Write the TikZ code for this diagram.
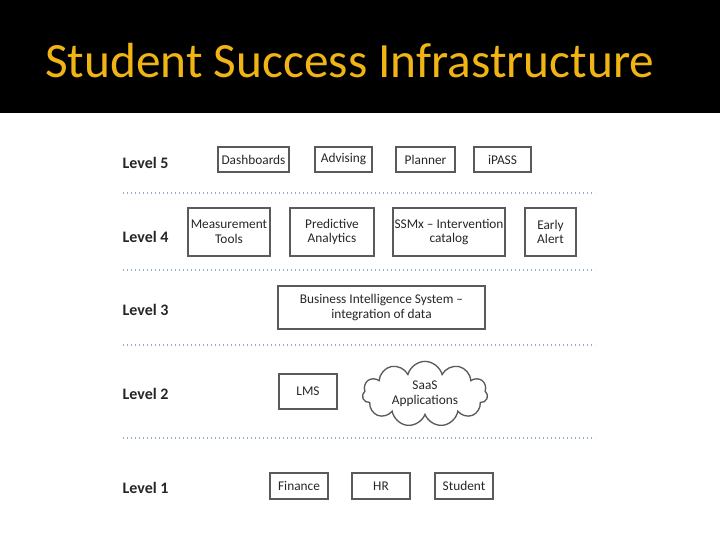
\documentclass[tikz,border=0pt]{standalone}
\usepackage{fontspec}
\setmainfont{Carlito}
\usetikzlibrary{shapes.symbols}
\definecolor{ttl}{RGB}{240,180,20}
\definecolor{sep}{RGB}{150,175,200}
\definecolor{bx}{RGB}{90,90,90}
\begin{document}
\begin{tikzpicture}[x=0.75pt,y=-0.75pt,
  bbox/.style={draw=bx,line width=1pt,align=center,inner sep=0pt,font=\fontsize{10}{11}\selectfont,text=black!85},
  lvl/.style={anchor=west,font=\bfseries\fontsize{12}{13}\selectfont,text=black!85},
  sepl/.style={draw=sep,dotted,line width=1pt}]
\useasboundingbox (0,0) rectangle (720,540);
\fill[black] (0,0) rectangle (720,113);
\node[anchor=base west,text=ttl,font=\fontsize{37}{40}\selectfont,inner sep=0pt] (title) at (45,77) {Student Success Infrastructure};
\foreach \y/\n in {193/s1,270/s2,345/s3,438/s4}{
  \coordinate (\n a) at (123,\y); \coordinate (\n b) at (595,\y);
  \draw[sepl] (\n a) -- (\n b);}
\node[lvl] (l5) at (118,163) {Level 5};
\node[lvl] (l4) at (118,237) {Level 4};
\node[lvl] (l3) at (118,310) {Level 3};
\node[lvl] (l2) at (118,394) {Level 2};
\node[lvl] (l1) at (118,488) {Level 1};
\newcommand{\bxnode}[6]{\node[bbox,minimum width=#3*0.75pt-#2*0.75pt,minimum height=#5*0.75pt-#4*0.75pt] (#1) at ({(#2+#3)/2},{(#4+#5)/2}) {#6};}
\bxnode{dash}{218}{289}{147}{172}{Dashboards}
\bxnode{adv}{315}{372}{147}{172}{Advising}
\bxnode{plan}{396}{455}{147}{172}{Planner}
\bxnode{ipass}{474}{531}{147}{172}{iPASS}
\bxnode{meas}{188}{270}{208}{256}{Measurement\\Tools}
\bxnode{pred}{290}{374}{208}{256}{Predictive\\Analytics}
\bxnode{ssmx}{393}{505}{208}{256}{SSMx – Intervention\\catalog}
\bxnode{early}{525}{576}{208}{256}{Early\\Alert}
\bxnode{bis}{278}{485}{286}{329}{Business Intelligence System –\\integration of data}
\bxnode{lms}{279}{337}{374}{409}{LMS}
\node[bbox,cloud,cloud puffs=11,aspect=2,minimum width=94pt,minimum height=46pt] (saas) at (425,394) {SaaS\\Applications};
\bxnode{fin}{270}{328}{473}{499}{Finance}
\bxnode{hr}{352}{410}{473}{499}{HR}
\bxnode{stu}{435}{493}{473}{499}{Student}
\end{tikzpicture}
\end{document}
